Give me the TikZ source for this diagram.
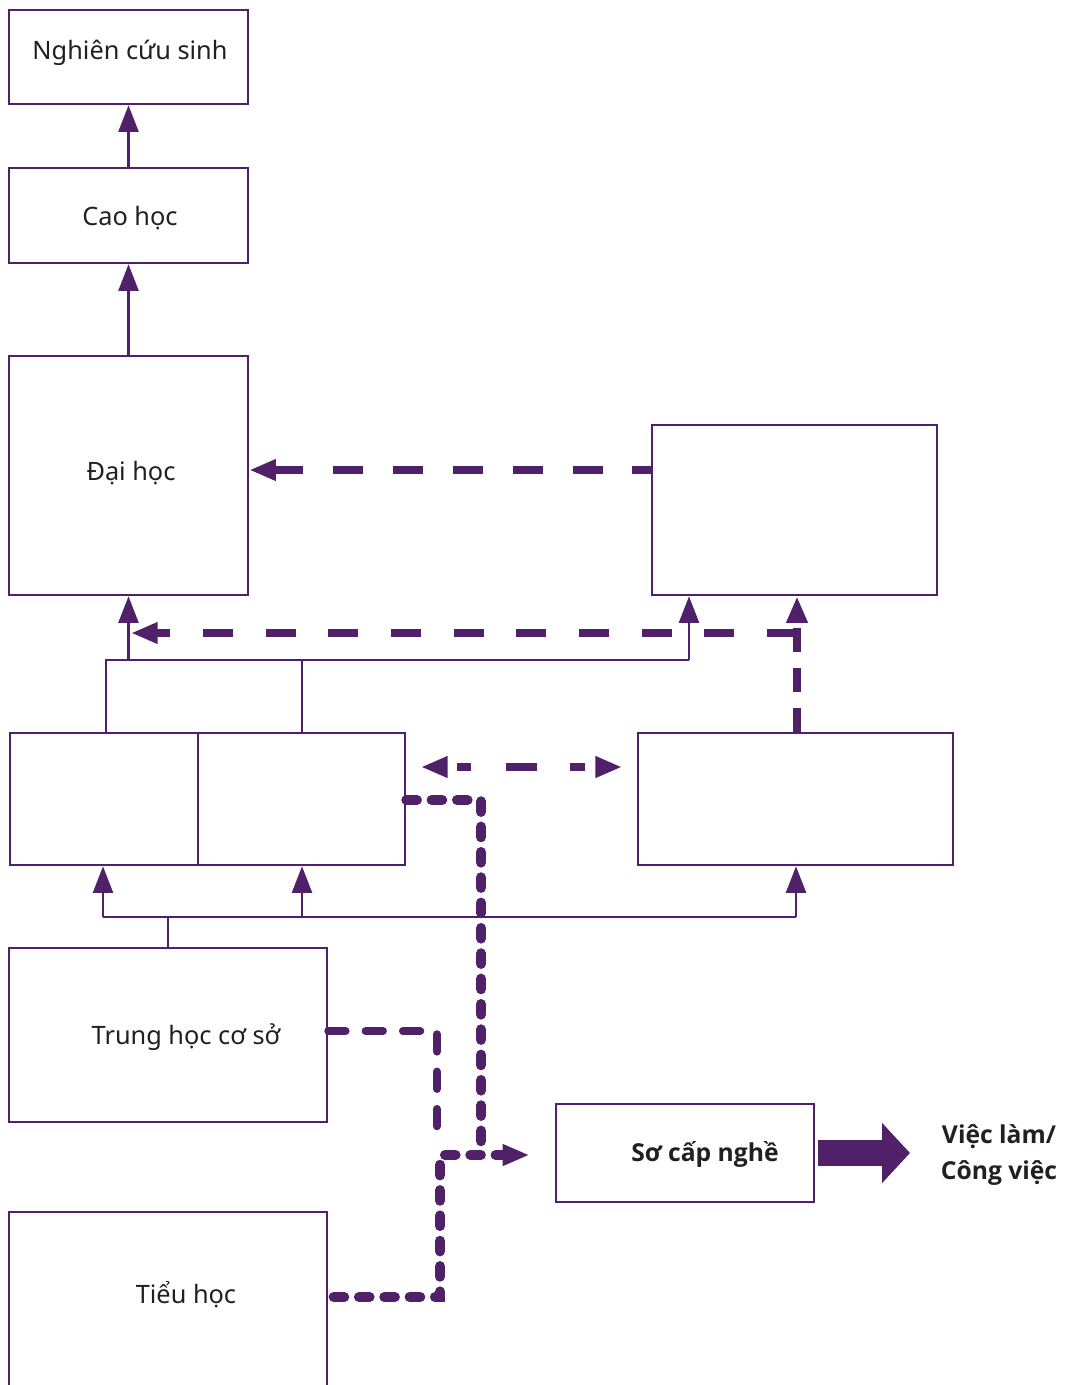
\documentclass[tikz,border=0pt]{standalone}
\usepackage{fontspec}
\setmainfont{Noto Sans}
\newfontfamily\boldfam{Open Sans}
\usetikzlibrary{arrows.meta}
\definecolor{pur}{RGB}{80,33,104}
\definecolor{ink}{RGB}{35,31,32}
\begin{document}
\begin{tikzpicture}[x=0.75pt,y=-0.75pt,
  box/.style={draw=pur,line width=1.9pt,inner sep=0pt,fill=white},
  lbl/.style={text=ink,inner sep=0pt,font=\fontsize{19}{23}\selectfont},
  blbl/.style={text=ink,inner sep=0pt,font=\boldfam\bfseries\fontsize{18.5}{27}\selectfont,align=center},
  tip/.style={-{Triangle[length=20pt,width=15pt]}},
  ln/.style={draw=pur,line width=1.9pt},
  arr/.style={ln,tip},
  dsh/.style={draw=pur,line width=6pt},
  rdot/.style={draw=pur,line width=7.5pt,line cap=round,dash pattern=on 8pt off 11pt},
  mdot/.style={draw=pur,line width=6pt,line cap=round,dash pattern=on 13pt off 15pt}]
\useasboundingbox (0,0) rectangle (1066,1385);

% boxes
\node[box,minimum width=179.25pt,minimum height=70.5pt] (ncs) at (128.5,57) {};
\node[box,minimum width=179.25pt,minimum height=71.25pt] (cao) at (128.5,215.5) {};
\node[box,minimum width=179.25pt,minimum height=179.25pt] (dai) at (128.5,475.5) {};
\node[box,minimum width=213.75pt,minimum height=127.5pt] (rtop) at (794.5,510) {};
\node[box,minimum width=141pt,minimum height=99pt] (lp1) at (104,799) {};
\node[box,minimum width=155.25pt,minimum height=99pt] (lp2) at (301.5,799) {};
\node[box,minimum width=236.25pt,minimum height=99pt] (rmid) at (795.5,799) {};
\node[box,minimum width=238.5pt,minimum height=130.5pt] (thcs) at (168,1035) {};
\node[box,minimum width=238.5pt,minimum height=130.5pt] (tieu) at (168,1299) {};
\node[box,minimum width=193.5pt,minimum height=73.5pt] (socap) at (685,1153) {};

% texts
\node[lbl,anchor=base] (tncs) at (130,59) {Nghiên cứu sinh};
\node[lbl,anchor=base] (tcao) at (130,225) {Cao học};
\node[lbl,anchor=base] (tdai) at (131,480) {Đại học};
\node[lbl,anchor=base] (tthcs) at (186,1044) {Trung học cơ sở};
\node[lbl,anchor=base] (ttieu) at (186,1303) {Tiểu học};
\node[blbl,anchor=base] (tsocap) at (705,1161) {Sơ cấp nghề};
\node[blbl] (job) at (999,1155) {Việc làm/\\Công việc};

% upper chain
\draw[arr] (cao.north) -- (ncs.south);
\draw[arr] (dai.north) -- (cao.south);

% upper tree
\coordinate (ta) at (106,660);
\coordinate (tb) at (302,660);
\coordinate (tc) at (689,660);
\coordinate (td) at (128.5,660);
\draw[ln] (ta |- lp1.north) -- (ta) -- (tc);
\draw[ln] (tb |- lp2.north) -- (tb);
\draw[arr] (td) -- (td |- dai.south);
\draw[arr] (tc) -- (tc |- rtop.south);

% dashed connectors upper
\coordinate (vd) at (797,633);
\coordinate (he) at (131,633);
\draw[dsh,dash pattern=on 18pt off 12pt,tip] (vd |- rmid.north) -- (vd |- rtop.south);
\draw[dsh,dash pattern=on 22.5pt off 24.5pt,tip] (vd) -- (he);
\coordinate (dy) at (0,470);
\draw[dsh,dash pattern=on 14pt off 22pt on 22.5pt off 22.5pt on 22.5pt off 22.5pt on 22.5pt off 22.5pt on 22.5pt off 22.5pt on 22.5pt off 22.5pt on 22.5pt off 22.5pt on 22.5pt off 22.5pt on 22.5pt off 22.5pt,tip] (rtop.west |- dy) -- (dai.east |- dy);

% double dashed arrow
\coordinate (dd) at (0,767);
\draw[dsh,dash pattern=on 0pt off 8pt on 11pt off 26pt on 23pt off 25pt on 11pt off 30pt,
  {Triangle[length=20pt,width=15pt]}-{Triangle[length=20pt,width=15pt]},
  shorten <=11pt,shorten >=11pt] (lp2.east |- dd) -- (rmid.west |- dd);

% lower tree
\coordinate (ba) at (103,917);
\coordinate (bb) at (302,917);
\coordinate (bc) at (796,917);
\draw[ln] (thcs.north) -- (thcs.north |- ba);
\draw[ln] (ba) -- (bc);
\draw[arr] (ba) -- (ba |- lp1.south);
\draw[arr] (bb) -- (bb |- lp2.south);
\draw[arr] (bc) -- (bc |- rmid.south);

% dotted routes to vocational
\coordinate (r1) at (481,800);
\coordinate (r2) at (481,1150);
\draw[rdot] (lp2.east |- r1) -- (r1) -- (r2);
\coordinate (m1) at (437,1031);
\coordinate (m2) at (437,1130);
\draw[mdot] (thcs.east |- m1) -- (m1) -- (m2);
\coordinate (s1) at (440,1297);
\coordinate (s2) at (440,1155);
\draw[rdot,-{Triangle[length=20pt,width=15pt]},shorten <=4pt,shorten >=19pt] (tieu.east |- s1) -- (s1) -- (s2) -- (socap.west |- s2);

% thick arrow to job
\coordinate (jt) at (910,1153);
\draw[draw=pur,line width=20pt,-{Triangle[length=21pt,width=44pt]},shorten <=2pt] (socap.east) -- (jt);
\end{tikzpicture}
\end{document}
